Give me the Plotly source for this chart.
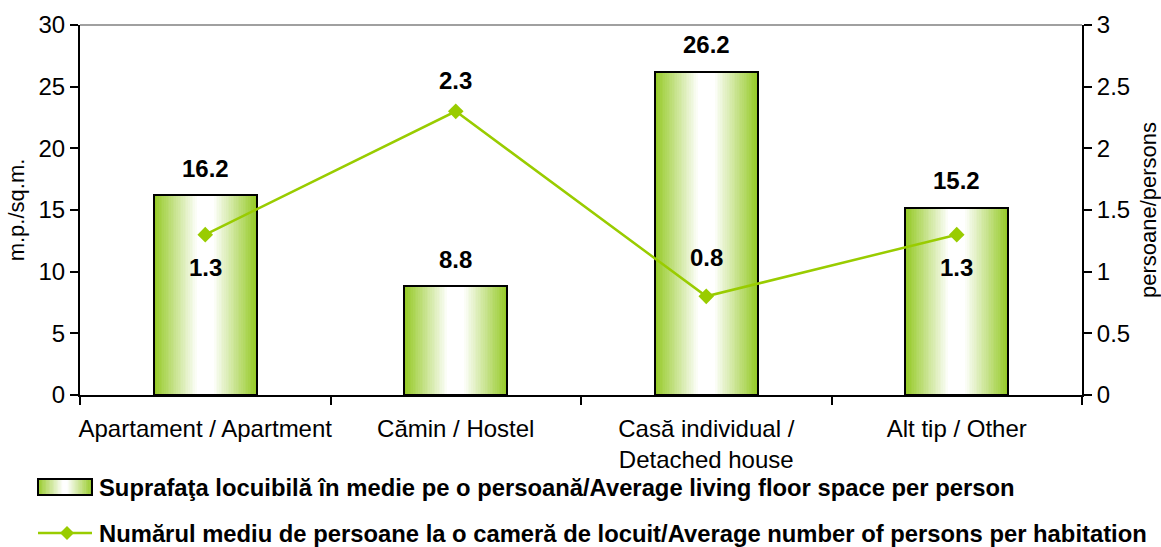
import plotly.graph_objects as go

categories = ["Apartament / Apartment", "Cămin / Hostel", "Casă individual /<br>Detached house", "Alt tip / Other"]
floor_space = [16.2, 8.8, 26.2, 15.2]
persons_per_room = [1.3, 2.3, 0.8, 1.3]
left_ticks = [0, 5, 10, 15, 20, 25, 30]
right_ticks = [0, 0.5, 1, 1.5, 2, 2.5, 3]

legend_bar = "Suprafaţa locuibilă în medie pe o persoană/Average living floor space per person"
legend_line = "Numărul mediu de persoane la o cameră de locuit/Average number of persons per habitation"

# ---- style ----
LINE_GREEN = "rgb(153,204,0)"
BAR_EDGE = (150, 202, 40)
FONT = "Liberation Sans, Arial, sans-serif"
W, H = 1161, 547
ML, MT = 80, 25
PW, PH = 1002, 370
MR, MB = W - ML - PW, H - MT - PH
BAR_W = 0.41
N = 28
line_label_shift = [-33, 31, 39, -33]
FS = 24
LEG_FS = 23.8


def mix(t):
    c = [round(BAR_EDGE[i] + (255 - BAR_EDGE[i]) * t) for i in range(3)]
    return f"rgb({c[0]},{c[1]},{c[2]})"


# helpers: pixel -> paper coordinates
def px_x(p):
    return (p - ML) / PW


def px_y(p):
    return (MT + PH - p) / PH


fig = go.Figure()

# gradient bars: nested overlay bars, green edges -> white centre
for k in range(N):
    f = k / (N - 1)
    t = min(1.0, f * 1.08)
    w = BAR_W * (1 - 0.9 * f)
    fig.add_trace(go.Bar(x=categories, y=floor_space, width=w, marker=dict(color=mix(t), line=dict(width=0)),
                         showlegend=False, hoverinfo="skip"))
fig.add_trace(go.Bar(x=categories, y=floor_space, width=BAR_W, name=legend_bar,
                     marker=dict(color="rgba(0,0,0,0)", line=dict(color="black", width=2)), showlegend=False))

fig.add_trace(go.Scatter(x=categories, y=persons_per_room, yaxis="y2", mode="lines+markers", name=legend_line,
                         line=dict(color=LINE_GREEN, width=2.5),
                         marker=dict(symbol="diamond", size=12, color=LINE_GREEN), showlegend=False))

annotations = []
for c, v in zip(categories, floor_space):
    annotations.append(dict(x=c, y=v, xref="x", yref="y", text=f"<b>{v:.1f}</b>", showarrow=False,
                            yshift=27, font=dict(size=FS, family=FONT, color="black")))
for c, v, s in zip(categories, persons_per_room, line_label_shift):
    annotations.append(dict(x=c, y=v, xref="x", yref="y2", text=f"<b>{v:.1f}</b>", showarrow=False,
                            yshift=s, font=dict(size=FS, family=FONT, color="black")))

# ---- manual legend ----
shapes = []
sx0, sx1, sy0, sy1 = 38, 92, 479, 495
M = 40
for j in range(M):
    a = sx0 + (sx1 - sx0) * j / M
    b = sx0 + (sx1 - sx0) * (j + 1) / M
    d = abs((j + 0.5) / M - 0.5) * 2
    t = min(1.0, (1 - d) * 1.08)
    shapes.append(dict(type="rect", xref="paper", yref="paper", x0=px_x(a), x1=px_x(b) + 0.0005,
                       y0=px_y(sy1), y1=px_y(sy0), fillcolor=mix(t), line=dict(width=0), layer="above"))
shapes.append(dict(type="rect", xref="paper", yref="paper", x0=px_x(sx0), x1=px_x(sx1), y0=px_y(sy1),
                   y1=px_y(sy0), line=dict(color="black", width=2), layer="above"))
ly = 533
shapes.append(dict(type="line", xref="paper", yref="paper", x0=px_x(38), x1=px_x(92), y0=px_y(ly), y1=px_y(ly),
                   line=dict(color=LINE_GREEN, width=2.5), layer="above"))
cx, r = 67, 7
shapes.append(dict(type="path", xref="paper", yref="paper",
                   path=(f"M {px_x(cx - r)},{px_y(ly)} L {px_x(cx)},{px_y(ly - r)} "
                         f"L {px_x(cx + r)},{px_y(ly)} L {px_x(cx)},{px_y(ly + r)} Z"),
                   fillcolor=LINE_GREEN, line=dict(width=0), layer="above"))
# top border (grey)
shapes.append(dict(type="line", xref="paper", yref="paper", x0=0, x1=1, y0=1, y1=1,
                   line=dict(color="#808080", width=1.5)))

annotations.append(dict(x=px_x(97), y=px_y(488), xref="paper", yref="paper", xanchor="left", yanchor="middle",
                        text=f"<b>{legend_bar}</b>", showarrow=False,
                        font=dict(size=LEG_FS, family=FONT, color="black")))
annotations.append(dict(x=px_x(97), y=px_y(ly), xref="paper", yref="paper", xanchor="left", yanchor="middle",
                        text=f"<b>{legend_line}</b>", showarrow=False,
                        font=dict(size=LEG_FS, family=FONT, color="black")))

axis_common = dict(showgrid=False, zeroline=False, showline=True, linecolor="black", linewidth=2,
                   ticks="outside", ticklen=8, tickwidth=2, tickcolor="black",
                   tickfont=dict(size=FS, family=FONT, color="black"))
inner_ticks = dict(ticks="inside", ticklen=8, tickwidth=2, tickcolor="black", showticklabels=False,
                   showgrid=False, zeroline=False, showline=False)

fig.update_layout(
    width=W, height=H, margin=dict(l=ML, r=MR, t=MT, b=MB, autoexpand=False),
    paper_bgcolor="white", plot_bgcolor="white", barmode="overlay", bargap=0,
    xaxis=dict(type="category", categoryorder="array", categoryarray=categories, range=[-0.5, 3.5],
               tickson="boundaries", tickangle=0, ticklabelstandoff=11, **axis_common),
    xaxis2=dict(overlaying="x", anchor="y", side="bottom", range=[-0.5, 3.5],
                tickvals=[-0.5, 0.5, 1.5, 2.5, 3.5], **inner_ticks),
    yaxis=dict(range=[0, 30], tickvals=left_ticks,
               title=dict(text="m.p./sq.m.", standoff=8, font=dict(size=22, family=FONT, color="black")),
               **axis_common),
    yaxis2=dict(range=[0, 3], tickvals=right_ticks, overlaying="y", side="right", anchor="x",
                title=dict(text="persoane/persons", standoff=14, font=dict(size=22, family=FONT, color="black")),
                **axis_common),
    yaxis3=dict(range=[0, 30], tickvals=left_ticks, overlaying="y", side="left", anchor="x", **inner_ticks),
    yaxis4=dict(range=[0, 3], tickvals=right_ticks, overlaying="y", side="right", anchor="x", **inner_ticks),
    annotations=annotations, shapes=shapes,
)

fig.write_html("out.html", config={"displayModeBar": False},
               post_script="document.body.style.margin='0';document.body.style.overflow='hidden';")
